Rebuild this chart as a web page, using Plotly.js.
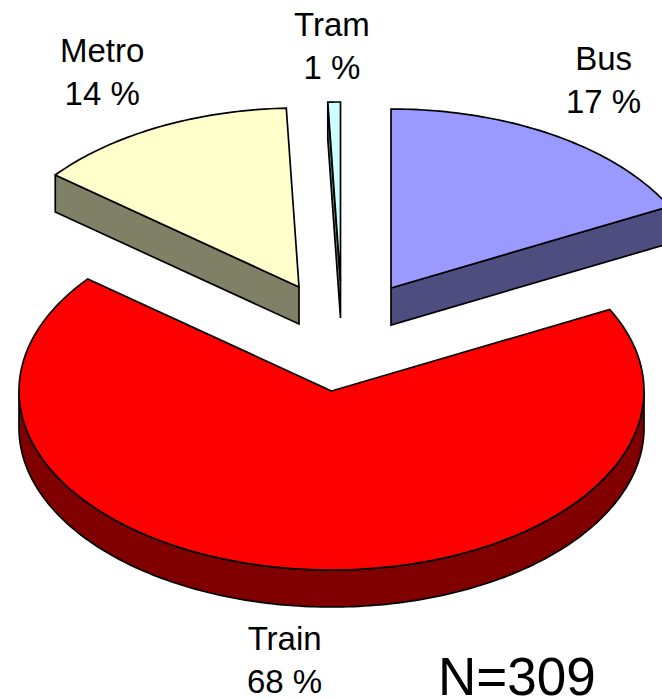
<!DOCTYPE html>
<html>
<head>
<meta charset="utf-8">
<script src="https://cdn.plot.ly/plotly-3.0.0.min.js"></script>
<style>html,body{margin:0;padding:0;background:#fff}#chart{width:662px;height:698px}</style>
</head>
<body>
<div id="chart"></div>
<script>
// Respondents per transport mode, clockwise from twelve o'clock
const modes = ['Bus', 'Train', 'Metro', 'Tram'];
const counts = [54, 211, 42, 2];
const sampleLabel = 'N=309';

// Face colours for each mode
const topColors = ['#9999ff', '#ff0000', '#ffffcc', '#ccffff'];
const sideColors = ['#4d4d80', '#800000', '#808066', '#668080'];

// Tilted-pie projection and the exploded position of each wedge's apex
const radiusX = 312.5, radiusY = 179, depth = 37;
const apexX = [391, 331.5, 299, 340.5];
const apexY = [288, 391, 287, 281];

// Category label anchors
const labelX = [603, 284, 102, 332];
const labelY = [80, 660, 72, 46];

const total = counts.reduce((a, b) => a + b, 0);
const rad = d => d * Math.PI / 180;

function rim(i, from, to) {
  const steps = Math.max(2, Math.ceil(Math.abs(to - from)));
  const pts = [];
  for (let s = 0; s <= steps; s++) {
    const a = rad(from + (to - from) * s / steps);
    pts.push([apexX[i] + radiusX * Math.cos(a), apexY[i] - radiusY * Math.sin(a)]);
  }
  return pts;
}

function polygon(pts, color, name) {
  return {
    type: 'scatter', mode: 'lines', name: name, hoverinfo: 'name',
    x: pts.map(p => p[0]).concat(pts[0][0]),
    y: pts.map(p => p[1]).concat(pts[0][1]),
    fill: 'toself', fillcolor: color,
    line: {color: '#000', width: 1.7, simplify: false}, showlegend: false
  };
}

// Angular span of each wedge, walking clockwise from the top
const spans = [];
let angle = 90;
counts.forEach(c => {
  const sweep = c / total * 360;
  spans.push([angle, angle - sweep]);
  angle -= sweep;
});

const down = pts => pts.map(p => [p[0], p[1] + depth]);
const traces = [];

function addWedge(i) {
  const [start, end] = spans[i];
  const apex = [apexX[i], apexY[i]];
  const outline = rim(i, start, end);

  if (modes[i] === 'Train') {
    // The large wedge wraps round the front, so its outer wall is what shows
    const lo = rim(i, -180, 0);
    traces.push(polygon(lo.concat(down(lo).reverse()), sideColors[i], modes[i]));
  } else {
    // Smaller wedges show only the cut face on their lower edge
    const rimEnd = modes[i] === 'Bus' ? outline[outline.length - 1] : outline[0];
    const edge = [apex, rimEnd];
    traces.push(polygon(edge.concat(down(edge).reverse()), sideColors[i], modes[i]));
  }
  traces.push(polygon([apex].concat(outline), topColors[i], modes[i]));
}

[2, 3, 0, 1].forEach(addWedge);

const annotations = modes.map((m, i) => ({
  x: labelX[i], y: labelY[i], xref: 'x', yref: 'y', showarrow: false,
  text: m + '<br>' + Math.round(counts[i] / total * 100) + ' %',
  font: {family: '"Liberation Sans", Arial, sans-serif', size: 33, color: '#000'},
  align: 'center'
}));
// Tight box keeps the bottom label inside the page
annotations[1].height = 76;
annotations.push({
  x: 517, y: 676, xref: 'x', yref: 'y', showarrow: false, text: sampleLabel, height: 44,
  font: {family: '"Liberation Sans", Arial, sans-serif', size: 53, color: '#000'}
});

Plotly.newPlot('chart', traces, {
  width: 662, height: 698,
  margin: {l: 0, r: 0, t: 0, b: 0},
  paper_bgcolor: '#fff', plot_bgcolor: '#fff',
  xaxis: {range: [0, 662], visible: false, fixedrange: true},
  yaxis: {range: [698, 0], visible: false, fixedrange: true},
  showlegend: false,
  annotations: annotations
}, {displayModeBar: false, staticPlot: true});
</script>
</body>
</html>
